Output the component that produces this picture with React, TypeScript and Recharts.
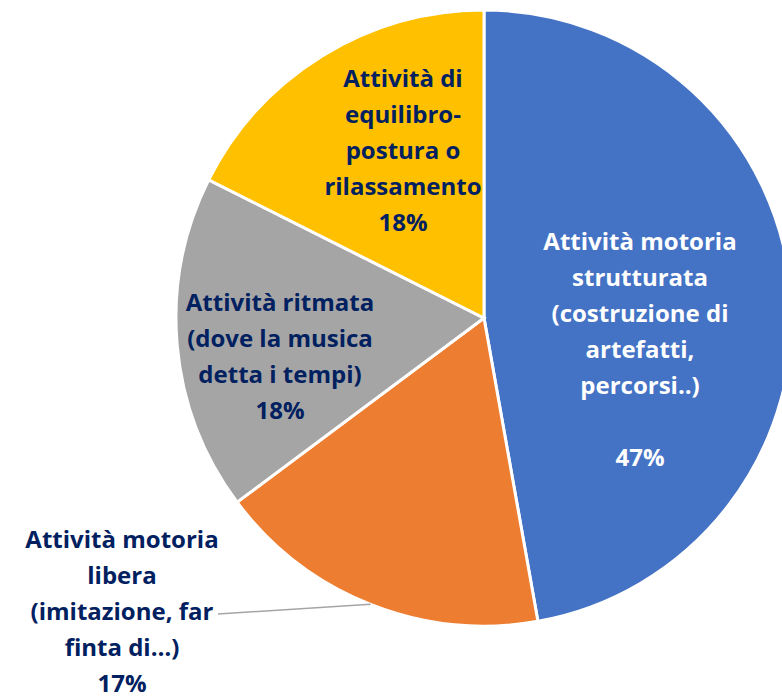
import React from "react";
import { PieChart, Pie, Cell } from "recharts";

// categories, slice sizes and the printed percentages
const categories = [
  "Attività motoria\nstrutturata\n(costruzione di\nartefatti,\npercorsi..)\n",
  "Attività motoria\nlibera\n(imitazione, far\nfinta di…)",
  "Attività ritmata\n(dove la musica\ndetta i tempi)",
  "Attività di\nequilibro-\npostura o\nrilassamento",
];
const values = [47.2, 17.6, 17.6, 17.6];
const percentLabels = ["47%", "17%", "18%", "18%"];
const colors = ["#4472C4", "#ED7D31", "#A5A5A5", "#FFC000"];
const labelColors = ["#FFFFFF", "#002060", "#002060", "#002060"];

// label anchor: text center x, first line y
const labelLayout = [
  { x: 640, y: 240 },
  { x: 122, y: 538 },
  { x: 280, y: 301 },
  { x: 403, y: 77 },
];

const data = categories.map((name, i) => ({ name, value: values[i] }));

const LINE_H = 36;

function renderLabel(props: any) {
  const { index, cx, cy, outerRadius, midAngle } = props;
  const pos = labelLayout[index];
  const lines = [...categories[index].split("\n"), percentLabels[index]];
  const RAD = Math.PI / 180;
  let leader = null;
  if (index === 1) {
    const ex = cx + outerRadius * Math.cos(-midAngle * RAD);
    const ey = cy + outerRadius * Math.sin(-midAngle * RAD);
    leader = <line x1={218} y1={614} x2={ex} y2={ey} stroke="#A5A5A5" strokeWidth={1.5} />;
  }
  return (
    <g key={`lbl-${index}`}>
      {leader}
      <text
        x={pos.x}
        y={pos.y}
        textAnchor="middle"
        fill={labelColors[index]}
        fontFamily="'Open Sans', sans-serif"
        fontWeight="bold"
        fontSize={24}
      >
        {lines.map((l, j) => (
          <tspan key={j} x={pos.x} y={pos.y + j * LINE_H} dominantBaseline="central">
            {l}
          </tspan>
        ))}
      </text>
    </g>
  );
}

export default function App() {
  return (
    <div style={{ position: "absolute", left: 0, top: 0, width: 782, height: 697, background: "#fff" }}>
      <PieChart width={782} height={697} margin={{ top: 0, right: 0, bottom: 0, left: 0 }}>
        <Pie
          data={data}
          dataKey="value"
          nameKey="name"
          cx={484}
          cy={318}
          outerRadius={308}
          startAngle={90}
          endAngle={-270}
          stroke="#FFFFFF"
          strokeWidth={3}
          label={renderLabel}
          labelLine={false}
          isAnimationActive={false}
        >
          {data.map((d, i) => (
            <Cell key={d.name} fill={colors[i]} />
          ))}
        </Pie>
      </PieChart>
    </div>
  );
}
